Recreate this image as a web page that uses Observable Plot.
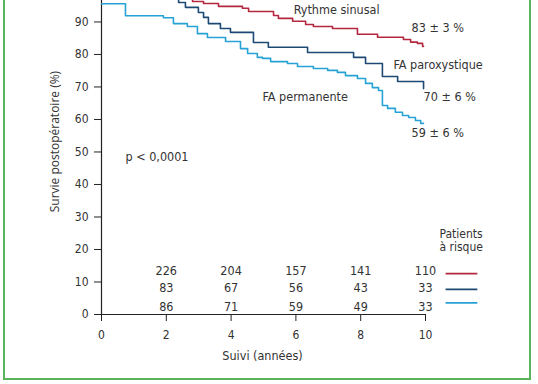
<!DOCTYPE html>
<html>
<head>
<meta charset="utf-8">
<script src="https://cdn.jsdelivr.net/npm/d3@7"></script>
<script src="https://cdn.jsdelivr.net/npm/@observablehq/plot@0.6"></script>
<style>
  body { margin: 0; background: #fff; width: 538px; height: 384px; overflow: hidden; position: relative; }
  #frame { position: absolute; left: 3px; top: -10px; width: 528px; height: 390px; border: 2px solid #5bb45b; box-sizing: border-box; }
  #chart { position: absolute; left: 0; top: 0; }
</style>
</head>
<body>
<div id="frame"></div>
<div id="chart"></div>
<script>
// Kaplan–Meier steps (time in years, survival %)
const sinusT = [0, 0.3, 1.2, 2.0, 2.81, 3.15, 3.61, 4.35, 4.54, 5.31, 5.46, 5.90, 6.30, 6.54, 7.13, 7.90, 8.52, 9.32, 9.54, 9.75, 9.91, 9.94];
const sinusS = [100, 99.0, 98.0, 97.2, 96.3, 95.7, 94.8, 94.2, 93.2, 92.0, 91.1, 90.2, 89.2, 88.6, 88.0, 86.2, 85.3, 84.6, 83.8, 83.4, 82.5, 82.5];

const paroT = [0, 0.5, 1.5, 2.38, 2.59, 2.99, 3.15, 3.30, 3.67, 3.98, 4.69, 5.15, 6.36, 7.78, 8.15, 8.67, 9.14, 9.94];
const paroS = [100, 99.0, 98.0, 96.0, 94.5, 92.9, 91.4, 89.5, 88.0, 86.8, 83.7, 82.2, 80.6, 79.1, 77.2, 73.2, 71.7, 69.5];

const permT = [0, 0.74, 1.91, 2.22, 2.65, 2.96, 3.27, 3.83, 4.29, 4.51, 4.81, 4.97, 5.22, 5.74, 6.05, 6.54, 6.98, 7.28, 7.53, 7.90, 8.15, 8.36, 8.55, 8.67, 8.83, 9.07, 9.29, 9.48, 9.69, 9.85, 9.94];
const permS = [95.6, 91.9, 91.3, 89.5, 88.6, 86.4, 85.2, 84.0, 81.8, 80.3, 79.1, 78.8, 77.8, 77.2, 76.3, 75.7, 75.1, 74.5, 73.5, 72.6, 71.1, 69.8, 68.9, 64.3, 63.4, 62.2, 61.2, 60.6, 59.7, 58.8, 58.8];

const seriesNames = ["Rythme sinusal", "FA paroxystique", "FA permanente"];
const seriesColors = ["#b3283f", "#1d4a74", "#27a2d6"];

// Patients at risk
const riskYears = [2, 4, 6, 8, 10];
const riskSinus = [226, 204, 157, 141, 110];
const riskParo = [83, 67, 56, 43, 33];
const riskPerm = [86, 71, 59, 49, 33];

const yTicks = [0, 10, 20, 30, 40, 50, 60, 70, 80, 90];
const xTicks = [0, 2, 4, 6, 8, 10];

const toRows = (T, S, name) => T.map((t, i) => ({t, s: S[i], name}));
const curves = [
  ...toRows(sinusT, sinusS, seriesNames[0]),
  ...toRows(paroT, paroS, seriesNames[1]),
  ...toRows(permT, permS, seriesNames[2])
];

const riskRows = [];
[riskSinus, riskParo, riskPerm].forEach((arr, k) => {
  arr.forEach((n, i) => riskRows.push({t: riskYears[i], row: k, n}));
});
const riskY = [13.5, 8.0, 2.4];
const legendY = [12.6, 7.7, 3.6];

const font = "'DejaVu Sans Condensed', 'DejaVu Sans', sans-serif";
const txt = "#333";

const labels = [
  {t: 5.93, s: 93.7, text: "Rythme sinusal"},
  {t: 9.57, s: 88.0, text: "83 ± 3 %"},
  {t: 9.01, s: 76.9, text: "FA paroxystique"},
  {t: 4.97, s: 66.8, text: "FA permanente"},
  {t: 9.94, s: 66.8, text: "70 ± 6 %"},
  {t: 9.57, s: 55.7, text: "59 ± 6 %"},
  {t: 0.74, s: 48.6, text: "p < 0,0001"}
];

const plot = Plot.plot({
  width: 538,
  height: 384,
  marginLeft: 101,
  marginRight: 113,
  marginTop: 0,
  marginBottom: 70,
  style: {fontFamily: font, fontSize: "12px", color: txt, background: "transparent", overflow: "hidden"},
  x: {domain: [0, 10]},
  y: {domain: [0, 96.6]},
  color: {domain: seriesNames, range: seriesColors},
  marks: [
    Plot.axisY({ticks: yTicks, tickSize: 7, tickPadding: 6, label: null, fontSize: 12, stroke: "#222"}),
    Plot.axisX({ticks: xTicks, tickSize: 7, tickPadding: 9, label: null, fontSize: 12, stroke: "#222"}),
    Plot.ruleX([0], {stroke: "#222", strokeWidth: 1.2}),
    Plot.ruleY([0], {stroke: "#222", strokeWidth: 1.2}),
    Plot.line(curves, {x: "t", y: "s", z: "name", stroke: "name", curve: "step-after", strokeWidth: 1.6}),
    Plot.text(labels, {x: "t", y: "s", text: "text", textAnchor: "start", fontSize: 12.5, fill: txt}),
    Plot.text(riskRows, {x: "t", y: d => riskY[d.row], text: "n", fontSize: 12.5, fill: txt}),
    Plot.link([0, 1, 2], {x1: 10.62, x2: 11.6, y1: i => legendY[i], y2: i => legendY[i], stroke: i => seriesNames[i], strokeWidth: 1.8}),
    Plot.text(["Patients\nà risque"], {x: 10.43, y: 22.9, text: d => d, textAnchor: "start", lineHeight: 1.1, fontSize: 12, fill: txt}),
    Plot.text(["Suivi (années)"], {x: 4.97, y: -12.9, text: d => d, fontSize: 12.5, fill: txt}),
    Plot.text(["Survie postopératoire (%)"], {x: -1.42, y: 53.2, text: d => d, rotate: -90, fontSize: 12, fill: txt, fontFamily: "'Open Sans', sans-serif"})
  ]
});
document.getElementById("chart").appendChild(plot);
</script>
</body>
</html>
